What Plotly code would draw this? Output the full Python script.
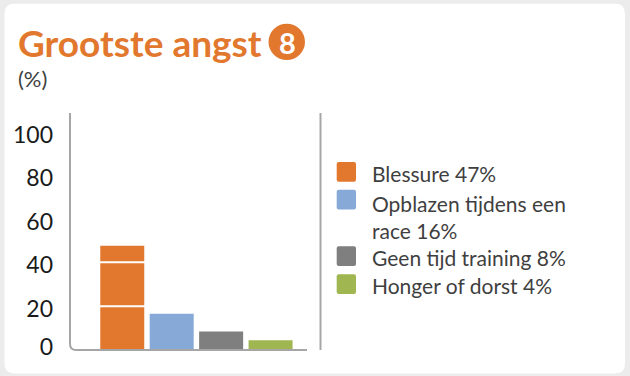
import plotly.graph_objects as go

TITLE = "Grootste angst"
BADGE = "8"
UNIT = "(%)"
categories = ["Blessure", "Opblazen tijdens een race", "Geen tijd training", "Honger of dorst"]
values = [47, 16, 8, 4]
legend_labels = ["Blessure 47%", "Opblazen tijdens een<br>race 16%", "Geen tijd training 8%", "Honger of dorst 4%"]
colors = ["#E2782E", "#86A9D8", "#7F7F7F", "#9FB651"]
tick_labels = ["0", "20", "40", "60", "80", "100"]
# the source's axis labels sit slightly off the bar scale; these are where they are read on it
tick_vals = [1.1, 18.4, 38.3, 58.0, 78.0, 97.6]
band_lines = [19.5, 39.5]

W, H = 630, 376
FONT = "Lato"
ORANGE = "#E2782E"
TEXT = "#3f3f3f"
AXIS = "#a6a6a6"

L, R, T, B = 70, 320, 113, 349.5
AX_Y = 350.5

def px(x): return (x - L) / (R - L)
def py(y): return (B - y) / (B - T)

fig = go.Figure(go.Bar(
    x=categories, y=values,
    marker=dict(color=colors, line=dict(width=0)),
    width=0.89, showlegend=False,
))

def rounded(x0, y0, x1, y1, r):
    return (f"M{px(x0+r)},{py(y0)} L{px(x1-r)},{py(y0)} Q{px(x1)},{py(y0)} {px(x1)},{py(y0+r)} "
            f"L{px(x1)},{py(y1-r)} Q{px(x1)},{py(y1)} {px(x1-r)},{py(y1)} L{px(x0+r)},{py(y1)} "
            f"Q{px(x0)},{py(y1)} {px(x0)},{py(y1-r)} L{px(x0)},{py(y0+r)} Q{px(x0)},{py(y0)} {px(x0+r)},{py(y0)} Z")

shapes = [
    dict(type="path", xref="paper", yref="paper", path=rounded(4.5, 3.5, 625, 374, 10),
         fillcolor="white", line=dict(width=0), layer="below"),
    dict(type="path", xref="paper", yref="paper",
         path=f"M{px(L)},{py(T)} L{px(L)},{py(AX_Y-6)} Q{px(L)},{py(AX_Y)} {px(L+6)},{py(AX_Y)} L{px(307)},{py(AX_Y)}",
         line=dict(color=AXIS, width=2), layer="above"),
    dict(type="line", xref="paper", yref="paper", x0=px(R + 0.5), x1=px(R + 0.5), y0=py(T), y1=py(AX_Y),
         line=dict(color=AXIS, width=2), layer="above"),
    dict(type="circle", xref="paper", yref="paper", x0=px(268.5), x1=px(305), y0=py(23.5), y1=py(60),
         fillcolor=ORANGE, line=dict(width=0)),
]
for v in band_lines:
    shapes.append(dict(type="line", xref="paper", yref="y", x0=px(95), x1=px(148), y0=v, y1=v,
                       line=dict(color="white", width=2), layer="above"))

annotations = [
    dict(text=f"<b>{TITLE}</b>", x=px(16), y=py(42), xref="paper", yref="paper", xanchor="left", yanchor="middle",
         showarrow=False, font=dict(family=FONT, size=37, color=ORANGE)),
    dict(text=f"<b>{BADGE}</b>", x=px(287), y=py(42), xref="paper", yref="paper", xanchor="center", yanchor="middle",
         showarrow=False, font=dict(family=FONT, size=29, color="white")),
    dict(text=UNIT, x=px(16), y=py(78), xref="paper", yref="paper", xanchor="left", yanchor="middle",
         showarrow=False, font=dict(family=FONT, size=22, color=TEXT)),
]

rows_y = [174, 217, 258, 286]
swatch_y = [172, 200, 256.5, 284.5]
for lab, c, ty, sy in zip(legend_labels, colors, rows_y, swatch_y):
    annotations.append(dict(text=lab, x=px(370), y=py(ty), xref="paper", yref="paper", xanchor="left",
                            yanchor="middle", align="left", showarrow=False,
                            font=dict(family=FONT, size=21, color=TEXT)))
    shapes.append(dict(type="path", xref="paper", yref="paper",
                       path=rounded(336.7, sy - 10, 356, sy + 9.8, 2), fillcolor=c, line=dict(width=0)))

fig.update_layout(
    width=W, height=H, autosize=False,
    paper_bgcolor="#ececec", plot_bgcolor="rgba(0,0,0,0)",
    margin=dict(l=L, r=W - R, t=T, b=H - B, pad=0),
    xaxis=dict(type="category", categoryorder="array", categoryarray=categories,
               range=[-1.057, 4.0], showticklabels=False, showgrid=False, zeroline=False, showline=False, ticks=""),
    yaxis=dict(range=[0, (B - T) / 2.2], tickvals=tick_vals, ticktext=tick_labels, showgrid=False, zeroline=False,
               showline=False, ticks="", ticklabelstandoff=16,
               tickfont=dict(family=FONT, size=23, color="#1a1a1a")),
    shapes=shapes, annotations=annotations,
)
fig.write_html("out.html", config=dict(displayModeBar=False),
               post_script="document.body.style.margin='0';document.body.style.overflow='hidden';")
